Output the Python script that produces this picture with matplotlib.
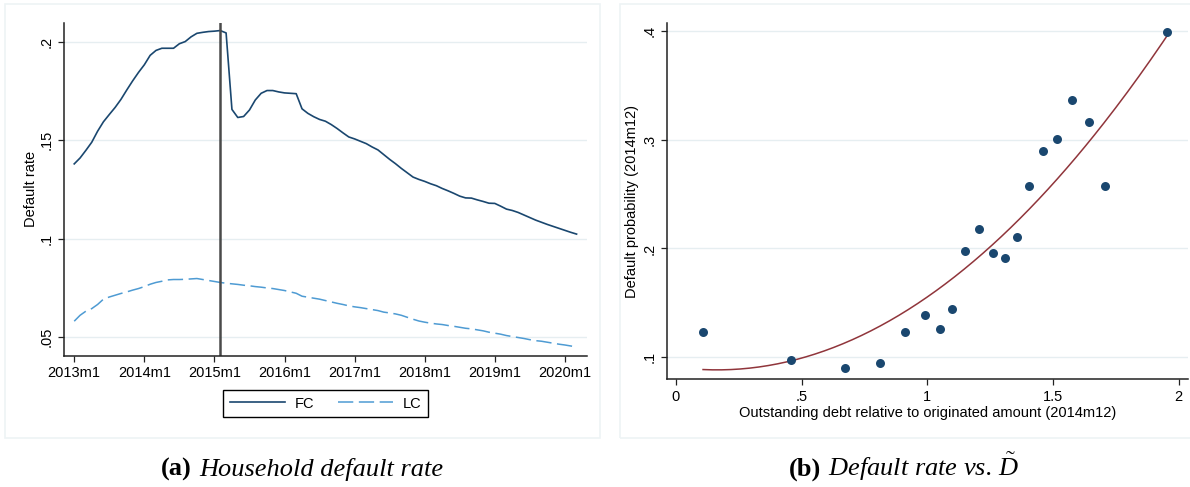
import numpy as np
import matplotlib
matplotlib.use("Agg")
import matplotlib.pyplot as plt
from matplotlib.patches import Rectangle

# ---- panel (a): household default rate, monthly from 2013m1 ----
years = [2013, 2014, 2015, 2016, 2017, 2018, 2019, 2020]
event_month = 25  # 2015m2, months since 2013m1

fc_rate = [
    0.138, 0.141, 0.1449, 0.149, 0.1546, 0.1594, 0.1631, 0.1667, 0.1708, 0.1756,
    0.1802, 0.1845, 0.1884, 0.1932, 0.1957, 0.1968, 0.1968, 0.1968, 0.1991, 0.2002,
    0.2026, 0.2044, 0.2049, 0.2053, 0.2055, 0.2058, 0.2046, 0.1657, 0.1616,
    0.1621, 0.1654, 0.1705, 0.1739, 0.1753, 0.1753, 0.1746, 0.1741, 0.1739, 0.1737,
    0.166, 0.1637, 0.162, 0.1606, 0.1597, 0.158, 0.156, 0.1538, 0.1517,
    0.1507, 0.1495, 0.1483, 0.1466, 0.1451, 0.1427, 0.1403, 0.1381, 0.1357, 0.1335,
    0.1313, 0.1301, 0.1291, 0.1279, 0.1269, 0.1255, 0.1243, 0.123, 0.1216, 0.1207,
    0.1206, 0.1197, 0.1189, 0.118, 0.1179, 0.1165, 0.115,
    0.1143, 0.1133, 0.1120, 0.1107, 0.1094, 0.1083, 0.1072, 0.1062, 0.1052, 0.1042,
    0.1032, 0.1023,
]
lc_rate = [
    0.058, 0.061, 0.0631, 0.0644, 0.0665, 0.0692, 0.0703, 0.0712, 0.0721, 0.0729,
    0.0738, 0.0746, 0.0756, 0.0768, 0.0777, 0.0783, 0.079, 0.0792, 0.0792, 0.0793,
    0.0795, 0.0797, 0.0792, 0.0787, 0.0782, 0.0777, 0.0773, 0.077, 0.0767, 0.0763,
    0.076, 0.0756, 0.0753, 0.0749, 0.0746, 0.0741, 0.0736, 0.0729, 0.0722, 0.0707,
    0.0702, 0.0697, 0.0692, 0.0685,
    0.0678, 0.0671, 0.0665, 0.0658, 0.0653, 0.0649, 0.0644, 0.0639, 0.0634, 0.0626,
    0.0622, 0.0617, 0.061, 0.06, 0.059, 0.0581, 0.0575, 0.057, 0.0566, 0.0563,
    0.0558, 0.0554, 0.0549, 0.0544, 0.0541, 0.0536, 0.0531, 0.0524, 0.0519, 0.0514,
    0.0507, 0.0502, 0.0497, 0.0492, 0.0486, 0.0481, 0.0478, 0.0473, 0.0468, 0.0463,
    0.0459, 0.0454, 0.0449,
]
rate_ticks = [0.05, 0.1, 0.15, 0.2]
rate_labels = [".05", ".1", ".15", ".2"]

# ---- panel (b): default probability vs outstanding debt ratio ----
debt_ratio = [0.108, 0.459, 0.674, 0.813, 0.910, 0.990, 1.050, 1.097, 1.150, 1.204,
              1.260, 1.309, 1.356, 1.406, 1.461, 1.515, 1.577, 1.645, 1.708, 1.953]
default_prob = [0.123, 0.0969, 0.0899, 0.0942, 0.123, 0.139, 0.1255, 0.1445, 0.1976, 0.2176,
                0.1955, 0.1915, 0.2108, 0.2578, 0.2898, 0.3005, 0.3364, 0.3162, 0.2572, 0.3994]
fit_x = [0.111, 0.194, 0.459, 1.0, 1.248, 1.5, 1.950]
fit_y = [0.0886, 0.088, 0.097, 0.1547, 0.200, 0.2615, 0.394]
debt_ticks = [0, 0.5, 1, 1.5, 2]
debt_labels = ["0", ".5", "1", "1.5", "2"]
prob_ticks = [0.1, 0.2, 0.3, 0.4]
prob_labels = [".1", ".2", ".3", ".4"]

captions = [("(a)", "Household default rate"), ("(b)", r"Default rate vs. $\tilde{D}$")]

# styling
navy = "#1a476f"
lightblue = "#4e9bd3"
maroon = "#90353b"
grid_col = "#e6eef1"
border_col = "#eef3f5"

plt.rcParams["font.family"] = ["Liberation Sans", "DejaVu Sans"]
plt.rcParams["font.size"] = 10.5
plt.rcParams["lines.scale_dashes"] = False
plt.rcParams["mathtext.fontset"] = "custom"
plt.rcParams["mathtext.rm"] = "Liberation Serif"
plt.rcParams["mathtext.it"] = "Liberation Serif:italic"
plt.rcParams["mathtext.bf"] = "Liberation Serif:bold"

W, H = 1190, 487
fig = plt.figure(figsize=(W / 100, H / 100), dpi=100)

# light graph-region borders
fig.patches.append(Rectangle((5 / W, 1 - 438 / H), 595 / W, 434 / H, transform=fig.transFigure,
                             fill=False, edgecolor=border_col, linewidth=1.2))
fig.patches.append(Rectangle((620 / W, 1 - 438 / H), 600 / W, 434 / H, transform=fig.transFigure,
                             fill=False, edgecolor=border_col, linewidth=1.2))


def style_axes(ax):
    for side in ["top", "right"]:
        ax.spines[side].set_visible(False)
    for side in ["left", "bottom"]:
        ax.spines[side].set_color("#222222")
        ax.spines[side].set_linewidth(1.1)
    ax.tick_params(direction="out", length=4, width=0.9, color="#222222", labelsize=10.5)
    ax.grid(axis="y", color=grid_col, linewidth=1.0)
    ax.set_axisbelow(True)
    for lab in ax.get_yticklabels():
        lab.set_rotation(90)
        lab.set_va("center")


# ---- left panel ----
ax1 = fig.add_axes([64 / W, 1 - 356 / H, (586.5 - 64) / W, (356 - 22.7) / H])
months = np.arange(len(fc_rate))
ax1.plot(months, fc_rate, color=navy, linewidth=1.2, label="FC")
ax1.plot(months, lc_rate, color=lightblue, linewidth=1.1, linestyle=(0, (11, 4)), label="LC")
ax1.axvline(event_month, color="#4a4a4a", linewidth=1.8)
ax1.set_xlim(-1.75, 87.7)
ax1.set_ylim(0.0403, 0.2098)
ax1.set_xticks([12 * i for i in range(len(years))])
ax1.set_xticklabels([f"{y}m1" for y in years])
ax1.set_yticks(rate_ticks)
ax1.set_yticklabels(rate_labels)
ax1.set_ylabel("Default rate", labelpad=1)
style_axes(ax1)
ax1.legend(loc="center", bbox_to_anchor=(325.5 / W, 1 - 403.5 / H), bbox_transform=fig.transFigure,
           ncol=2, frameon=True, fancybox=False, edgecolor="black", framealpha=1,
           handlelength=3.8, handletextpad=0.65, columnspacing=1.6, borderpad=0.45,
           fontsize=10.5)
ax1.get_legend().get_frame().set_linewidth(1.0)

# ---- right panel ----
ax2 = fig.add_axes([666.6 / W, 1 - 379.3 / H, (1188 - 666.6) / W, (379.3 - 22.7) / H])
ax2.scatter(debt_ratio, default_prob, s=42, color=navy, zorder=3, linewidths=0)
coef = np.polyfit(fit_x, fit_y, 2)
xs = np.linspace(min(debt_ratio), max(debt_ratio), 200)
ax2.plot(xs, np.polyval(coef, xs), color=maroon, linewidth=1.1, zorder=2)
ax2.set_xlim(-0.037, 2.037)
ax2.set_ylim(0.0795, 0.4079)
ax2.set_xticks(debt_ticks)
ax2.set_xticklabels(debt_labels)
ax2.set_yticks(prob_ticks)
ax2.set_yticklabels(prob_labels)
ax2.set_xlabel("Outstanding debt relative to originated amount (2014m12)", labelpad=2)
ax2.set_ylabel("Default probability (2014m12)", labelpad=2)
style_axes(ax2)

# captions: bold tag + italic serif text, centred together under each panel
renderer = fig.canvas.get_renderer()
for (tag, text), cx in zip(captions, [302, 904]):
    t1 = fig.text(0, 1 - 468 / H, tag, fontfamily="Liberation Serif", fontweight="bold",
                  fontsize=19, va="baseline", ha="left")
    t2 = fig.text(0, 1 - 468 / H, text, fontfamily="Liberation Serif", fontstyle="italic",
                  fontsize=19, va="baseline", ha="left")
    w1 = t1.get_window_extent(renderer).width
    w2 = t2.get_window_extent(renderer).width
    gap = 7
    x0 = cx - (w1 + gap + w2) / 2
    t1.set_x(x0 / W)
    t2.set_x((x0 + w1 + gap) / W)
    t1.set_y(1 - 476 / H)
    t2.set_y(1 - 476 / H)

fig.savefig("out.png", dpi=100)
